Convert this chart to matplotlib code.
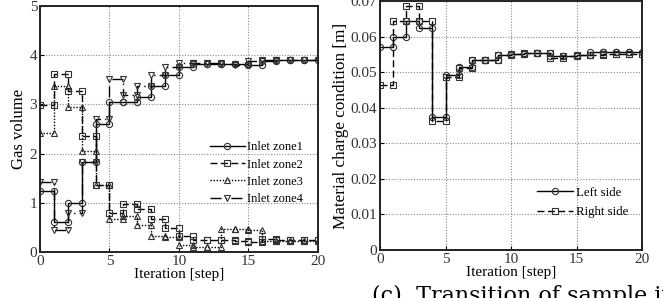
import numpy as np
import matplotlib
matplotlib.use("Agg")
import matplotlib.pyplot as plt

plt.rcParams['font.family'] = ['Liberation Serif', 'DejaVu Serif']

# value held over each interval [k, k+1], k = 0..19
steps = np.arange(21)

zone1 = [1.23, 0.60, 1.00, 1.82, 2.60, 3.05, 3.05, 3.15, 3.38, 3.60,
         3.75, 3.83, 3.83, 3.83, 3.83, 3.80, 3.88, 3.90, 3.90, 3.90]
zone2 = [2.98, 3.62, 3.28, 2.35, 1.37, 0.80, 0.97, 0.87, 0.68, 0.48,
         0.32, 0.24, 0.24, 0.24, 0.22, 0.20, 0.27, 0.25, 0.24, 0.24]
zone3 = [2.42, 3.37, 2.95, 2.05, 1.37, 0.67, 0.74, 0.55, 0.33, 0.30,
         0.15, 0.10, 0.10, 0.47, 0.47, 0.45, 0.22, 0.22, 0.22, 0.22]
zone4 = [1.42, 0.45, 0.80, 1.82, 2.70, 3.52, 3.20, 3.38, 3.60, 3.76,
         3.84, 3.84, 3.84, 3.83, 3.81, 3.88, 3.90, 3.90, 3.90, 3.90]
zone_labels = ['Inlet zone1', 'Inlet zone2', 'Inlet zone3', 'Inlet zone4']

left_side = [0.0570, 0.0598, 0.0645, 0.0625, 0.0374, 0.0492, 0.0514, 0.0534, 0.0534, 0.0548,
             0.0550, 0.0554, 0.0554, 0.0546, 0.0546, 0.0548, 0.0558, 0.0558, 0.0558, 0.0558]
right_side = [0.0465, 0.0645, 0.0685, 0.0645, 0.0363, 0.0485, 0.0511, 0.0534, 0.0534, 0.0548,
              0.0552, 0.0554, 0.0554, 0.0540, 0.0546, 0.0548, 0.0548, 0.0550, 0.0550, 0.0550]
side_labels = ['Left side', 'Right side']


def stair(vals):
    vals = np.asarray(vals)
    x = np.repeat(steps, 2)[1:-1]
    y = np.repeat(vals, 2)
    return x, y


def style_axes(ax):
    ax.grid(True, color='#8a8a8a', linestyle=(0, (1, 1.5)), linewidth=0.8)
    ax.set_axisbelow(True)
    for s in ax.spines.values():
        s.set_linewidth(1.4)
        s.set_color('#222222')
    ax.tick_params(direction='in', length=3, width=0.8, labelsize=11,
                   labelcolor='#333333', pad=2)
    ax.set_xlim(0, 20)
    ax.set_xticks([0, 5, 10, 15, 20])


fig = plt.figure(figsize=(6.63, 2.98), dpi=100)

ax1 = fig.add_axes([0.0603, 0.1544, 0.4193, 0.8255])
styles = [('-', 'o'), ((0, (5, 2.5)), 's'), ((0, (1, 1.2)), '^'), ((0, (8, 3, 1, 3)), 'v')]
for vals, lab, (ls, mk) in zip([zone1, zone2, zone3, zone4], zone_labels, styles):
    x, y = stair(vals)
    ax1.plot(x, y, color='black', linestyle=ls, linewidth=1.0, marker=mk, markersize=4.5,
             markerfacecolor='none', markeredgecolor='#333333', markeredgewidth=0.8, label=lab)
style_axes(ax1)
ax1.set_ylim(0, 5)
ax1.set_yticks([0, 1, 2, 3, 4, 5])
ax1.set_xlabel('Iteration [step]', fontsize=11, labelpad=0)
ax1.set_ylabel('Gas volume', fontsize=12, labelpad=2)
ax1.legend(loc='upper left', bbox_to_anchor=(0.61, 0.45), frameon=False, fontsize=9,
           handlelength=2.8, handletextpad=0.2, labelspacing=0.42, borderpad=0, borderaxespad=0)

ax2 = fig.add_axes([0.5732, 0.161, 0.3952, 0.8356])
for vals, lab, (ls, mk) in zip([left_side, right_side], side_labels, styles[:2]):
    x, y = stair(vals)
    ax2.plot(x, y, color='black', linestyle=ls, linewidth=1.0, marker=mk, markersize=4.5,
             markerfacecolor='none', markeredgecolor='#333333', markeredgewidth=0.8, label=lab)
style_axes(ax2)
ax2.set_ylim(0, 0.07)
ax2.set_yticks([0, 0.01, 0.02, 0.03, 0.04, 0.05, 0.06, 0.07])
ax2.set_yticklabels(['0', '0.01', '0.02', '0.03', '0.04', '0.05', '0.06', '0.07'])
ax2.set_xlabel('Iteration [step]', fontsize=11, labelpad=0)
ax2.set_ylabel('Material charge condition [m]', fontsize=12.3, labelpad=1)
ax2.legend(loc='upper left', bbox_to_anchor=(0.60, 0.255), frameon=False, fontsize=9.3,
           handlelength=2.8, handletextpad=0.2, labelspacing=0.6, borderpad=0, borderaxespad=0)

# caption of the next panel, cut by the bottom edge
fig.text(0.561, -0.012, '(c)  Transition of sample inlet', fontsize=16,
         family='DejaVu Serif', va='baseline', ha='left')

fig.savefig('out.png', dpi=100)
